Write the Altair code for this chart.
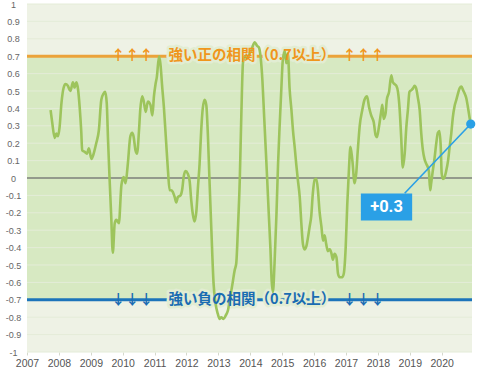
import altair as alt
import pandas as pd

# ---- data ----
years = [
    2007.74, 2007.79, 2007.87, 2007.92, 2007.97, 2008.02, 2008.08, 2008.15, 2008.21, 2008.28,
    2008.36, 2008.44, 2008.49, 2008.55, 2008.60, 2008.65, 2008.70, 2008.73, 2008.81, 2008.88,
    2008.94, 2009.02, 2009.09, 2009.17, 2009.25, 2009.33, 2009.40, 2009.45, 2009.50, 2009.54,
    2009.59, 2009.64, 2009.69, 2009.75, 2009.80, 2009.88, 2009.96, 2010.03, 2010.09, 2010.16,
    2010.24, 2010.30, 2010.34, 2010.40, 2010.45, 2010.51, 2010.55, 2010.61, 2010.66, 2010.72,
    2010.79, 2010.87, 2010.93, 2010.98, 2011.03, 2011.07, 2011.14, 2011.18, 2011.24, 2011.29,
    2011.35, 2011.42, 2011.47, 2011.52, 2011.57, 2011.63, 2011.68, 2011.73, 2011.81, 2011.87,
    2011.91, 2011.97, 2012.04, 2012.10, 2012.15, 2012.20, 2012.25, 2012.31, 2012.36, 2012.41,
    2012.46, 2012.51, 2012.57, 2012.62, 2012.67, 2012.72, 2012.78, 2012.85, 2012.91, 2012.98,
    2013.04, 2013.09, 2013.16, 2013.23, 2013.30, 2013.37, 2013.44, 2013.51, 2013.56, 2013.61,
    2013.67, 2013.72, 2013.77, 2013.82, 2013.88, 2013.93, 2013.98, 2014.06, 2014.14, 2014.21,
    2014.27, 2014.32, 2014.38, 2014.43, 2014.48, 2014.53, 2014.58, 2014.63, 2014.67, 2014.71,
    2014.76, 2014.82, 2014.87, 2014.92, 2014.97, 2015.02, 2015.08, 2015.13, 2015.18, 2015.23,
    2015.29, 2015.34, 2015.39, 2015.44, 2015.49, 2015.55, 2015.60, 2015.65, 2015.70, 2015.76,
    2015.81, 2015.86, 2015.91, 2015.96, 2016.02, 2016.07, 2016.12, 2016.17, 2016.23, 2016.28,
    2016.33, 2016.38, 2016.43, 2016.49, 2016.54, 2016.59, 2016.64, 2016.70, 2016.75, 2016.80,
    2016.88, 2016.93, 2016.99, 2017.04, 2017.09, 2017.14, 2017.20, 2017.27, 2017.32, 2017.37,
    2017.43, 2017.51, 2017.58, 2017.66, 2017.72, 2017.79, 2017.87, 2017.93, 2017.97, 2018.03,
    2018.11, 2018.14, 2018.18, 2018.24, 2018.28, 2018.35, 2018.42, 2018.47, 2018.52, 2018.58,
    2018.63, 2018.68, 2018.73, 2018.78, 2018.84, 2018.89, 2018.94, 2018.99, 2019.05, 2019.10,
    2019.15, 2019.20, 2019.25, 2019.31, 2019.36, 2019.41, 2019.46, 2019.52, 2019.57, 2019.60,
    2019.64, 2019.67, 2019.72, 2019.78, 2019.83, 2019.88, 2019.93, 2019.97, 2020.00, 2020.04,
    2020.09, 2020.14, 2020.20, 2020.25, 2020.30, 2020.35, 2020.40, 2020.46, 2020.51, 2020.56,
    2020.62, 2020.67, 2020.72, 2020.77, 2020.82, 2020.88, 2020.91,
]
corr = [
    0.39, 0.32, 0.23, 0.255, 0.24, 0.29, 0.43, 0.52, 0.54, 0.53,
    0.50, 0.55, 0.52, 0.55, 0.51, 0.41, 0.27, 0.16, 0.15, 0.14,
    0.17, 0.11, 0.14, 0.20, 0.27, 0.45, 0.485, 0.495, 0.43, 0.22,
    -0.01, -0.22, -0.43, -0.26, -0.24, -0.26, -0.04, 0.005, -0.03, 0.08,
    0.24, 0.26, 0.24, 0.16, 0.14, 0.27, 0.39, 0.47, 0.44, 0.38,
    0.44, 0.42, 0.36, 0.47, 0.54, 0.58, 0.70, 0.66, 0.52, 0.41,
    0.24, 0.04, -0.07, -0.07, -0.08, -0.11, -0.14, -0.11, -0.10, -0.06,
    0.005, 0.04, 0.025, -0.02, -0.13, -0.21, -0.25, -0.19, -0.05, 0.08,
    0.27, 0.40, 0.45, 0.42, 0.25, -0.01, -0.30, -0.61, -0.72, -0.78,
    -0.81, -0.80, -0.81, -0.79, -0.76, -0.685, -0.61, -0.53, -0.49, -0.30,
    -0.01, 0.37, 0.66, 0.70, 0.69, 0.69, 0.715, 0.75, 0.78, 0.76,
    0.75, 0.70, 0.56, 0.37, 0.18, -0.01, -0.21, -0.40, -0.59, -0.655,
    -0.49, -0.21, 0.08, 0.30, 0.50, 0.68, 0.73, 0.66, 0.715, 0.52,
    0.39, 0.27, 0.18, 0.08, -0.01, -0.11, -0.26, -0.38, -0.41, -0.39,
    -0.34, -0.28, -0.22, -0.09, -0.01, -0.005, -0.07, -0.19, -0.28, -0.36,
    -0.33, -0.38, -0.42, -0.41, -0.43, -0.47, -0.435, -0.455, -0.55, -0.57,
    -0.57, -0.55, -0.40, -0.15, 0.04, 0.18, 0.10, -0.03, 0.025, 0.16,
    0.30, 0.39, 0.45, 0.47, 0.41, 0.36, 0.32, 0.245, 0.235, 0.29,
    0.39, 0.42, 0.34, 0.37, 0.45, 0.495, 0.59, 0.55, 0.54, 0.53,
    0.495, 0.40, 0.235, 0.06, 0.14, 0.29, 0.39, 0.495, 0.505, 0.515,
    0.53, 0.515, 0.465, 0.39, 0.255, 0.16, 0.11, 0.08, 0.06, 0.035,
    -0.07, -0.03, 0.04, 0.12, 0.20, 0.26, 0.27, 0.18, 0.025, -0.005,
    0.005, 0.04, 0.10, 0.18, 0.255, 0.35, 0.41, 0.45, 0.485, 0.515,
    0.525, 0.505, 0.485, 0.46, 0.41, 0.34, 0.31,
]
n = min(len(years), len(corr))
years, corr = years[:n], corr[:n]

x_ticks = [2007, 2008, 2009, 2010, 2011, 2012, 2013, 2014, 2015, 2016, 2017, 2018, 2019, 2020]
y_ticks = [-1.0, -0.9, -0.8, -0.7, -0.6, -0.5, -0.4, -0.3, -0.2, -0.1, 0.0,
           0.1, 0.2, 0.3, 0.4, 0.5, 0.6, 0.7, 0.8, 0.9, 1.0]
x_domain = [2007, 2020.95]
y_domain = [-1, 1]

strong_pos = 0.7
strong_neg = -0.7
pos_text = "強い正の相関（0.7以上）"
neg_text = "強い負の相関（0.7以上）"
label_year = 2014.05
arrow_years = [2010.3, 2017.55]

last_label = "+0.3"
callout_year = 2018.27      # centre of the callout box
callout_value = -0.167
callout_tip_year = 2018.84  # where the connector meets the box
callout_tip_value = -0.088

# ---- colours ----
BG_OUT = "#eef2e5"
BG_BAND = "#d7e9c2"
GRID = "#e4ecd8"
LINE = "#9dc45c"
ORANGE_LINE = "#eba33a"
ORANGE_TXT = "#f0961c"
BLUE_LINE = "#1c74ba"
BLUE_TXT = "#1a6cb2"
CALLOUT = "#2aa0e6"

xs = alt.Scale(domain=x_domain, nice=False, zero=False)
ys = alt.Scale(domain=y_domain, nice=False)

xaxis = alt.Axis(values=x_ticks, format="d", labelFontSize=10.5, labelColor="#555",
                 labelFont="Liberation Sans", tickSize=3, tickColor="#d5d9cc",
                 domain=False, grid=False, labelPadding=3, labelFlush=False,
                 labelOverlap=False, title=None)
yaxis = alt.Axis(values=y_ticks, labelExpr="replace(format(datum.value, '.1~f'), '−', '-')",
                 labelFontSize=9, labelColor="#666", labelFont="Liberation Sans",
                 labelAlign="center", labelPadding=14, tickSize=0, domain=False,
                 grid=False, labelFlush=False, labelOverlap=False, title=None)


def X(field):
    return alt.X(field, scale=xs, axis=xaxis)


def Y(field):
    return alt.Y(field, scale=ys, axis=yaxis)


series = pd.DataFrame({"year": years, "corr": corr})
last = series.tail(1)

band = alt.Chart(pd.DataFrame({"top": [strong_pos], "bottom": [strong_neg]})).mark_rect(
    color=BG_BAND).encode(y=Y("top:Q"), y2="bottom:Q")

grid = alt.Chart(pd.DataFrame({"v": y_ticks})).mark_rule(color=GRID, strokeWidth=1).encode(
    y=Y("v:Q"))

zero = alt.Chart(pd.DataFrame({"v": [0.0]})).mark_rule(color="#7a7f76", strokeWidth=1.6).encode(
    y=Y("v:Q"))

thr = pd.DataFrame({"v": [strong_pos, strong_neg], "c": [ORANGE_LINE, BLUE_LINE]})
thr_rules = alt.Chart(thr).mark_rule(strokeWidth=3).encode(
    y=Y("v:Q"), color=alt.Color("c:N", scale=None))

line = alt.Chart(series).mark_line(color=LINE, strokeWidth=2.6, interpolate="monotone").encode(
    x=X("year:Q"), y=Y("corr:Q"))

lbl = pd.DataFrame({"year": [label_year, label_year], "v": [strong_pos, strong_neg],
                    "t": [pos_text, neg_text], "c": [ORANGE_TXT, BLUE_TXT]})
halo = alt.Chart(lbl).mark_text(font="Noto Sans CJK JP", fontSize=14.5, fontWeight="bold",
                                baseline="middle", stroke="#e2edd3", strokeWidth=5,
                                strokeJoin="round").encode(
    x=X("year:Q"), y=Y("v:Q"), text="t:N")
txt = alt.Chart(lbl).mark_text(font="Noto Sans CJK JP", fontSize=14.5, fontWeight="bold",
                               baseline="middle").encode(
    x=X("year:Q"), y=Y("v:Q"), text="t:N", color=alt.Color("c:N", scale=None))

arr_rows = []
for ay in arrow_years:
    arr_rows.append({"year": ay, "v": strong_pos, "t": "↑↑↑", "c": ORANGE_TXT})
    arr_rows.append({"year": ay, "v": strong_neg, "t": "↓↓↓", "c": BLUE_TXT})
arrows = alt.Chart(pd.DataFrame(arr_rows)).mark_text(
    font="Noto Sans CJK JP", fontSize=14, fontWeight="bold", baseline="middle").encode(
    x=X("year:Q"), y=Y("v:Q"), text="t:N", color=alt.Color("c:N", scale=None))

conn_df = pd.DataFrame({"x1": [last["year"].iloc[0]], "y1": [last["corr"].iloc[0]],
                        "x2": [callout_tip_year], "y2": [callout_tip_value]})
connector = alt.Chart(conn_df).mark_rule(color=CALLOUT, strokeWidth=1.6).encode(
    x=X("x1:Q"), y=Y("y1:Q"), x2="x2:Q", y2="y2:Q")

box_df = pd.DataFrame({"year": [callout_year], "v": [callout_value], "t": [last_label]})
box = alt.Chart(box_df).mark_point(shape="M-1.9,-1H1.9V1H-1.9Z", filled=True, opacity=1,
                                   color=CALLOUT, size=27 * 27).encode(
    x=X("year:Q"), y=Y("v:Q"))
box_txt = alt.Chart(box_df).mark_text(font="Roboto", fontSize=16.5, fontWeight="bold",
                                      color="white", baseline="middle").encode(
    x=X("year:Q"), y=Y("v:Q"), text="t:N")

dot = alt.Chart(last).mark_circle(color=CALLOUT, size=85, opacity=1).encode(
    x=X("year:Q"), y=Y("corr:Q"))

chart = alt.layer(band, grid, zero, thr_rules, halo, line, txt, arrows, connector, box,
                  box_txt, dot).properties(
    width=445, height=348,
    autosize=alt.AutoSizeParams(type="none"),
    padding={"left": 27, "top": 4, "right": 6, "bottom": 16},
    background="white",
).configure_view(fill=BG_OUT, stroke=None)

chart.save("out.html", embed_options={"renderer": "svg", "actions": False})
